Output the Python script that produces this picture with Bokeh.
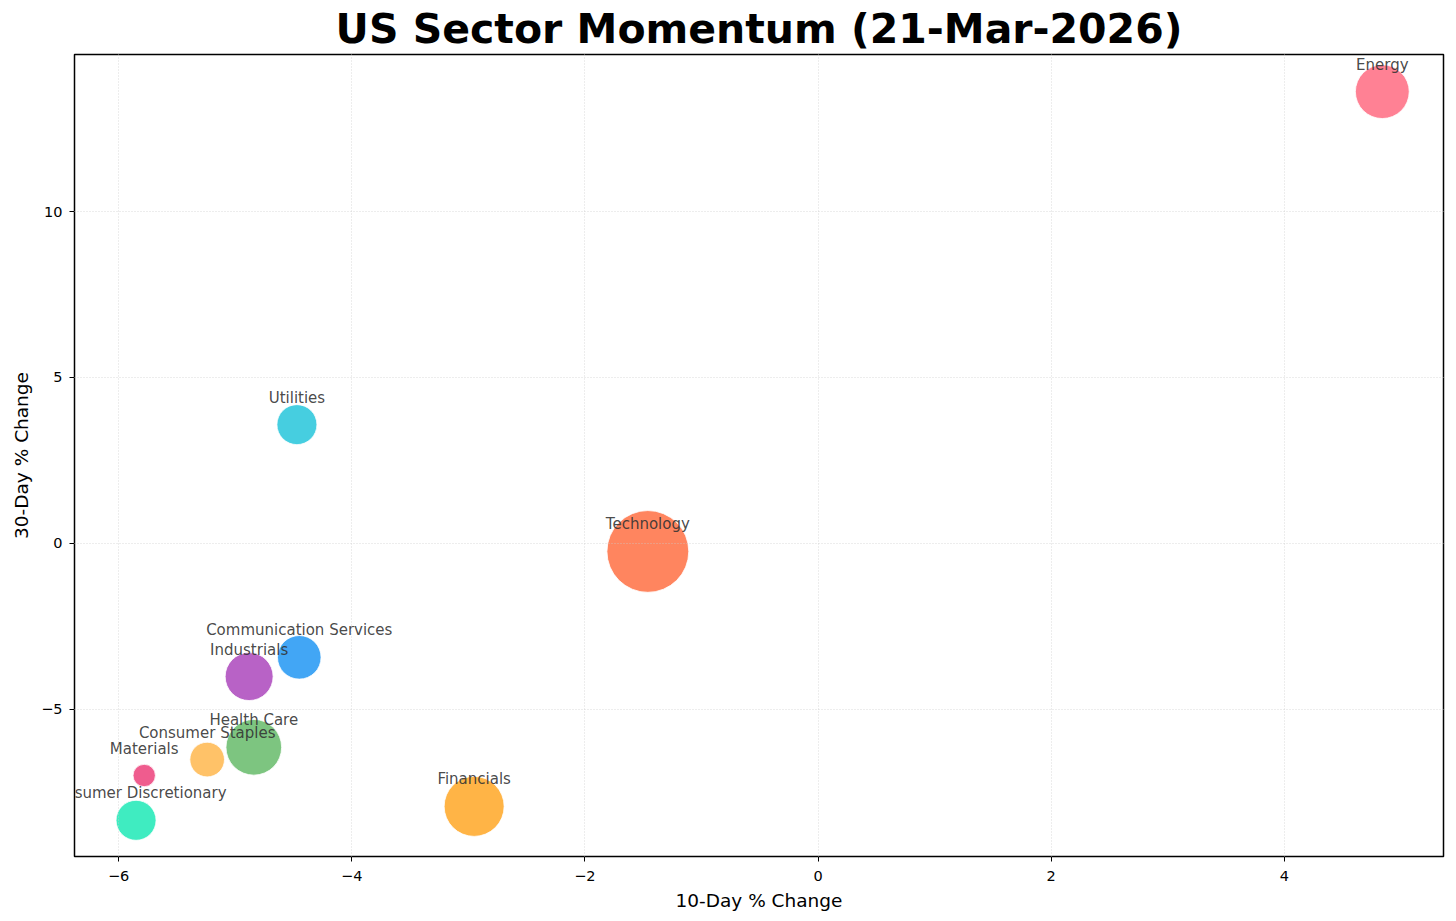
from bokeh.plotting import figure
from bokeh.models import ColumnDataSource, FixedTicker, Range1d, Label
from bokeh.embed import file_html
from bokeh.resources import INLINE
import numpy as np

sectors = ["Energy", "Utilities", "Technology", "Communication Services", "Industrials",
           "Health Care", "Consumer Staples", "Materials", "Consumer Discretionary", "Financials"]
change_10d = [4.84, -4.47, -1.46, -4.45, -4.88, -4.84, -5.24, -5.78, -5.85, -2.95]
change_30d = [13.61, 3.58, -0.24, -3.43, -4.01, -6.14, -6.51, -6.99, -8.34, -7.92]
weights = [29, 16, 67, 19, 23, 31, 12, 5, 16, 36]
colors = ["#FF6B81", "#26C6DA", "#FF7043", "#2196F3", "#AB47BC",
          "#66BB6A", "#FFB74D", "#EC407A", "#1DE9B6", "#FFA726"]
x_ticks = [-6, -4, -2, 0, 2, 4]
y_ticks = [-5, 0, 5, 10]

src = ColumnDataSource(dict(x=change_10d, y=change_30d, name=sectors,
                            size=[np.sqrt(w) * 10 for w in weights], color=colors))

p = figure(width=1452, height=913, output_backend="svg", toolbar_location=None,
           x_range=Range1d(-6.378, 5.365), y_range=Range1d(-9.43, 14.73),
           title="US Sector Momentum (21-Mar-2026)",
           min_border_left=74, min_border_right=9, min_border_bottom=54, min_border_top=0)
p.title.align = "center"
p.title.text_font = "DejaVu Sans"
p.title.text_font_size = "41px"
p.title.text_font_style = "bold"
p.title.text_color = "black"
p.title.padding = 3
p.title.standoff = -2
p.title.offset = 0

p.scatter("x", "y", source=src, size="size", fill_color="color", fill_alpha=0.85,
          line_color="white", line_width=1, line_alpha=0.8)
for name, xv, yv in zip(sectors, change_10d, change_30d):
    p.add_layout(Label(x=xv, y=yv, text=name, text_align="center",
                       text_baseline="middle", y_offset=27, text_font="DejaVu Sans",
                       text_font_size="15px", text_color="#333333", text_alpha=0.9))

p.outline_line_color = "black"
p.outline_line_width = 1.5
p.outline_line_alpha = 1

for ax, ticks in ((p.xaxis, x_ticks), (p.yaxis, y_ticks)):
    ax.ticker = FixedTicker(ticks=ticks)
    ax.major_label_overrides = {t: (str(t).replace("-", "\u2212")) for t in ticks}
    ax.axis_line_color = None
    ax.major_tick_out = 5
    ax.major_tick_in = 0
    ax.minor_tick_line_color = None
    ax.major_tick_line_color = "black"
    ax.major_label_text_font = "DejaVu Sans"
    ax.major_label_text_font_size = "14.5px"
    ax.major_label_text_color = "black"
    ax.axis_label_text_font = "DejaVu Sans"
    ax.axis_label_text_font_size = "18.5px"
    ax.axis_label_text_font_style = "normal"
    ax.axis_label_text_color = "black"

p.xaxis.axis_label = "10-Day % Change"
p.yaxis.axis_label = "30-Day % Change"
p.xaxis.major_label_standoff = 9
p.yaxis.major_label_standoff = 7
p.xaxis.axis_label_standoff = 6
p.yaxis.axis_label_standoff = 6

for g in (p.xgrid, p.ygrid):
    g.grid_line_color = "#cccccc"
    g.grid_line_dash = "1 2"
    g.grid_line_width = 1
    g.grid_line_alpha = 0.7
    g.level = "overlay"

p.background_fill_color = "white"
p.border_fill_color = "white"

open("out.html", "w").write(file_html(p, INLINE))
